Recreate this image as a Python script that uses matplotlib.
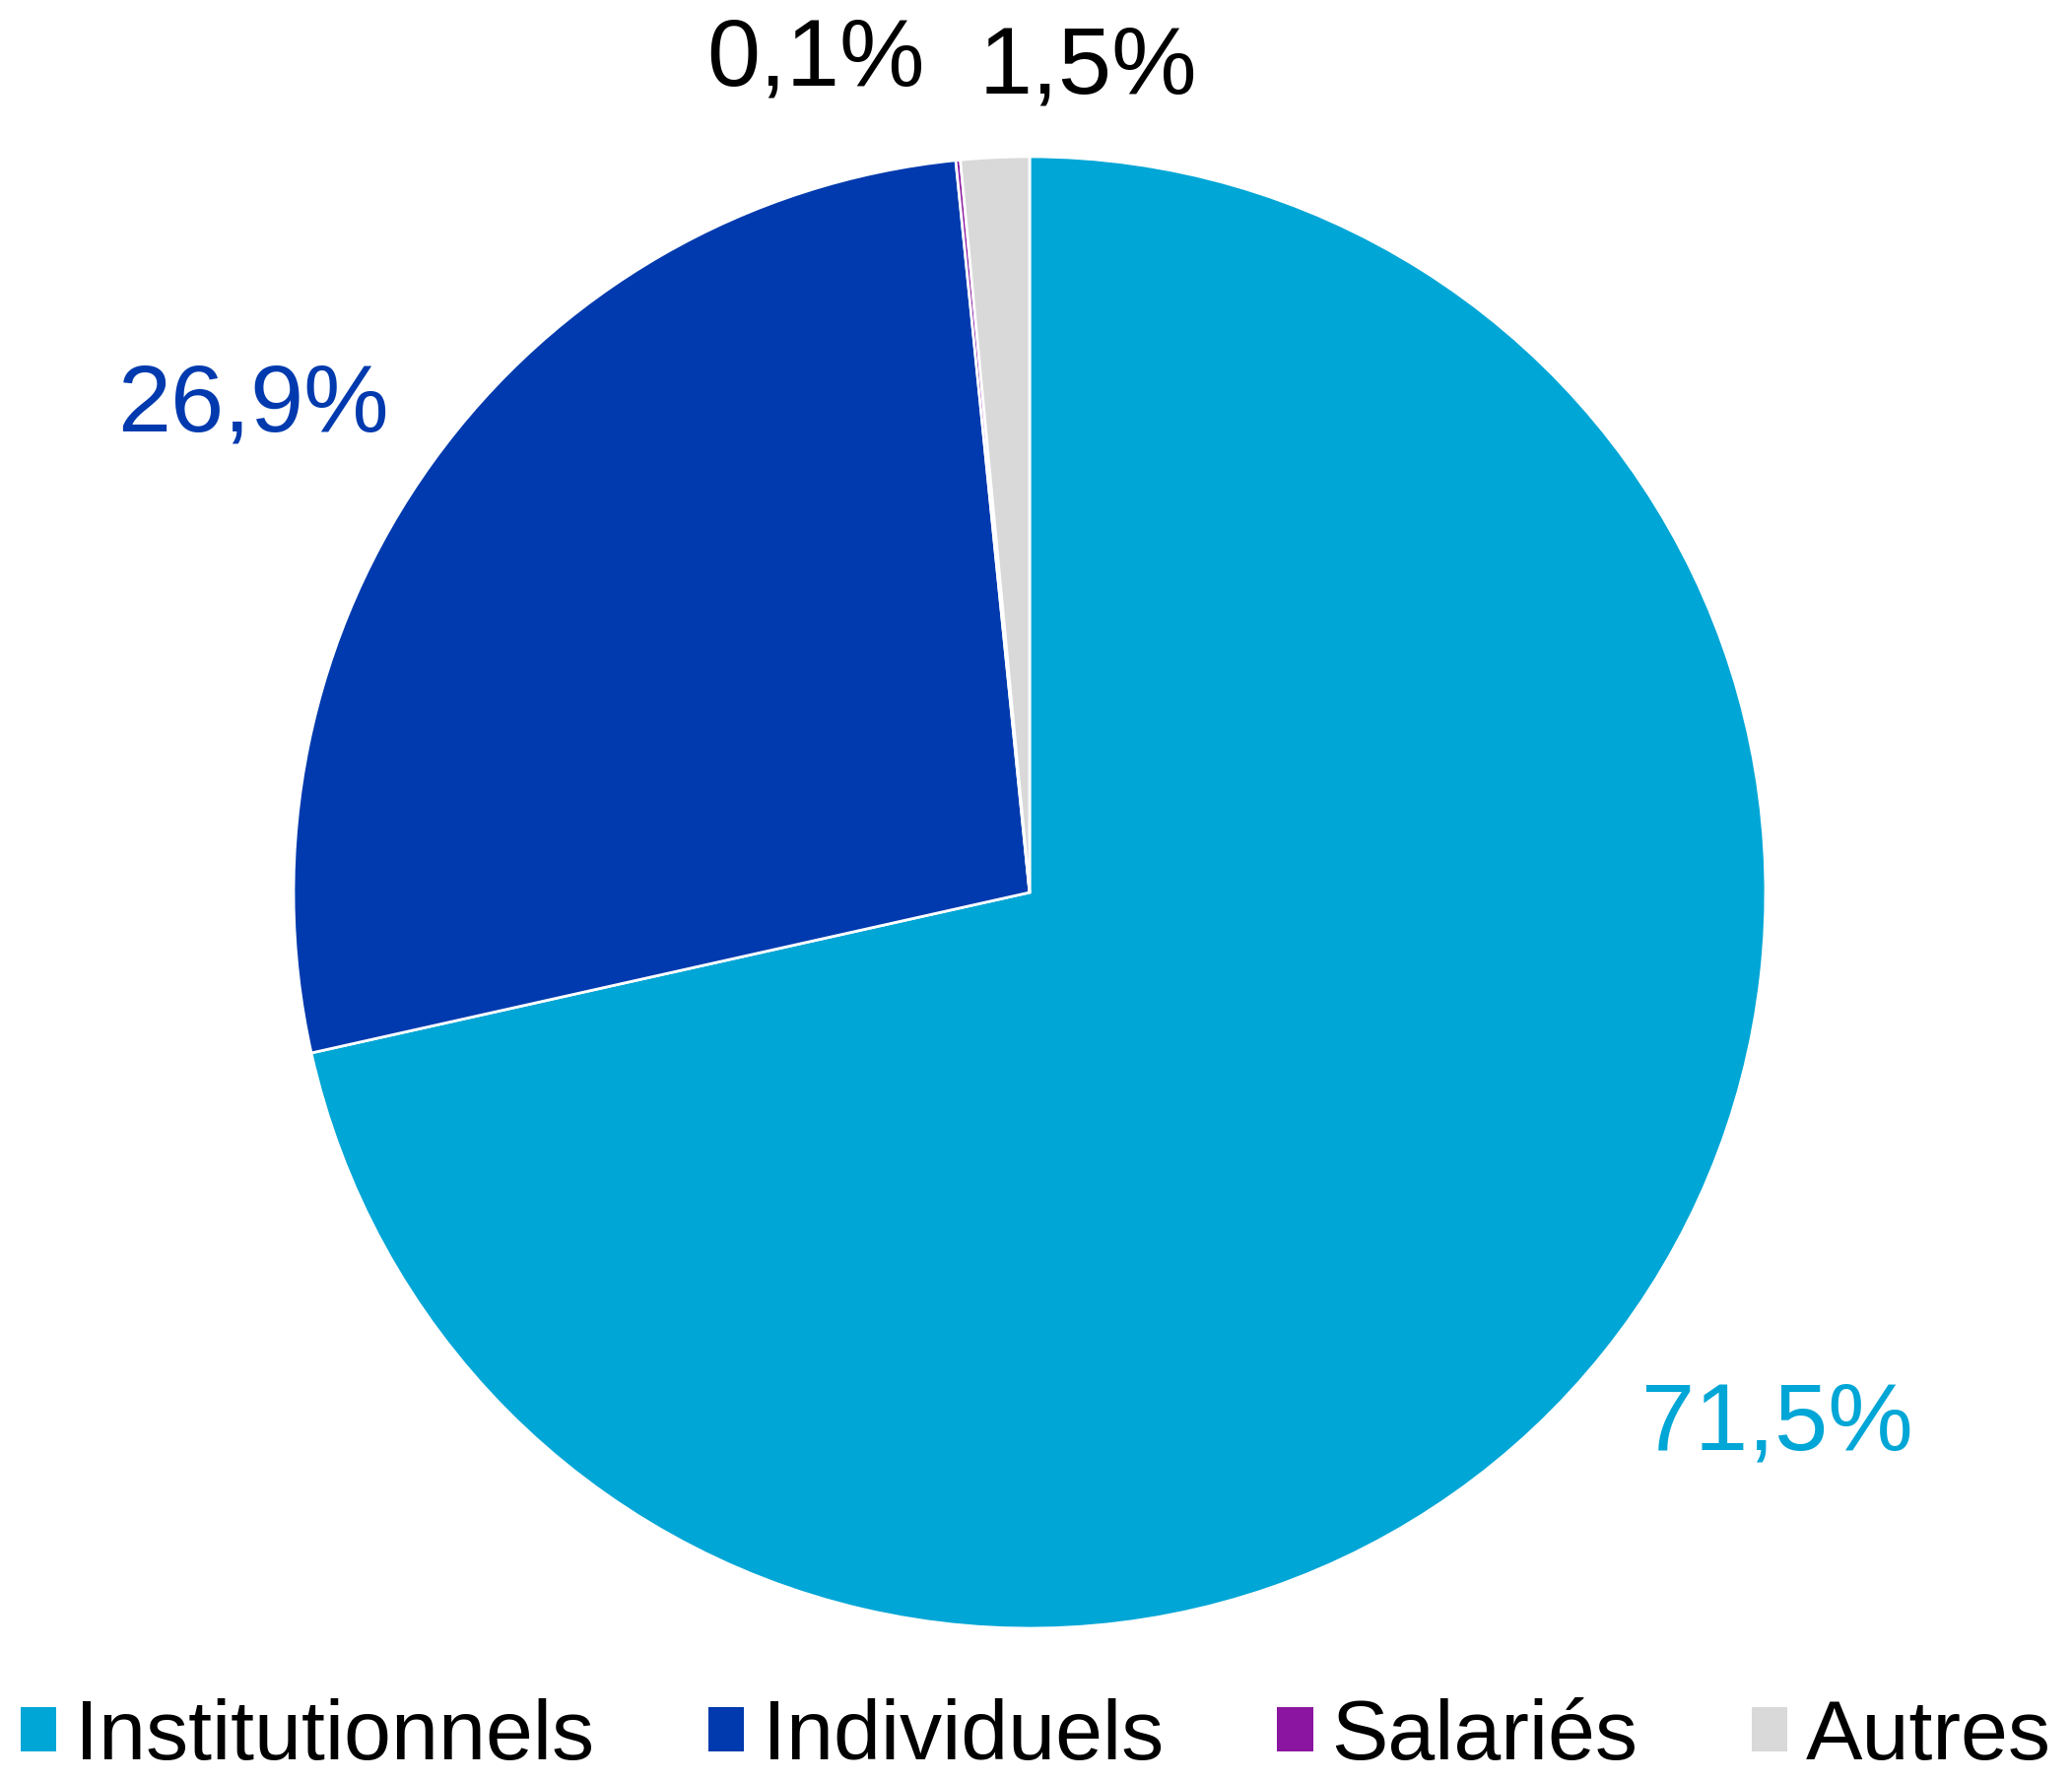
import matplotlib
matplotlib.use('Agg')
import matplotlib.pyplot as plt
from matplotlib.patches import Patch

plt.rcParams['font.family'] = ['Liberation Sans', 'DejaVu Sans']

categories = ['Institutionnels', 'Individuels', 'Salariés', 'Autres']
shares = [71.5, 26.9, 0.1, 1.5]
colors = ['#00A6D6', '#003AAE', '#8B14A0', '#D9D9D9']
label_colors = ['#00A6D6', '#003AAE', '#000000', '#000000']
# label positions in pie units (radius = 1)
label_pos = [(1.016, -0.723), (-1.055, 0.661), (-0.29, 1.13), (0.08, 1.12)]

W, H = 2103, 1807
fig = plt.figure(figsize=(W / 100, H / 100), dpi=100)
cx, cy, r = 1045, 906, 747
ax = fig.add_axes([(cx - r) / W, (H - cy - r) / H, 2 * r / W, 2 * r / H])

wedges, _ = ax.pie(shares, colors=colors, startangle=90, counterclock=False,
                   wedgeprops=dict(edgecolor='white', linewidth=2))
ax.set_xlim(-1, 1)
ax.set_ylim(-1, 1)
ax.set_aspect('equal')
ax.axis('off')

for v, (x, y), c in zip(shares, label_pos, label_colors):
    txt = f"{v:.1f}%".replace('.', ',')
    ax.text(x, y, txt, color=c, fontsize=70, ha='center', va='center', clip_on=False)

handles = [Patch(facecolor=c, edgecolor='none') for c in colors]
fig.legend(handles, categories, loc='center', bbox_to_anchor=(0.5, 1 - 1764 / H),
           ncol=4, frameon=False, fontsize=62, handlelength=0.42, handleheight=0.42,
           handletextpad=0.22, columnspacing=1.34, borderaxespad=0, borderpad=0)

fig.savefig('out.png', dpi=100)
